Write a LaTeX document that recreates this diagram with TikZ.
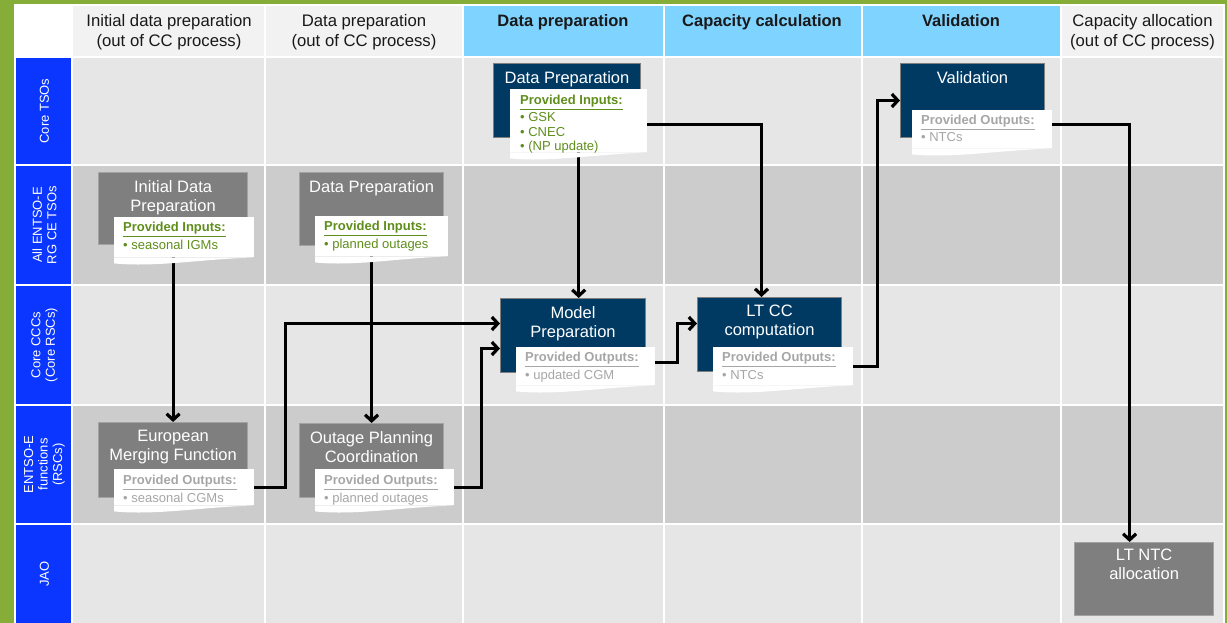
\documentclass[tikz,border=0pt]{standalone}
\usepackage{fontspec}
\setmainfont{Liberation Sans}
\usetikzlibrary{arrows.meta,calc}
\pgfdeclarelayer{bg}
\pgfdeclarelayer{conn}
\pgfsetlayers{bg,conn,main}
\definecolor{bggreen}{HTML}{86AD38}
\definecolor{hdrgray}{HTML}{F2F2F2}
\definecolor{hdrblue}{HTML}{7FD3FF}
\definecolor{lblblue}{HTML}{0A36FF}
\definecolor{rowlight}{HTML}{E6E6E6}
\definecolor{rowdark}{HTML}{CCCCCC}
\definecolor{navy}{HTML}{003A63}
\definecolor{boxgray}{HTML}{7F7F7F}
\definecolor{boxedge}{HTML}{A3A3A3}
\definecolor{notegreen}{HTML}{5F8E1C}
\definecolor{notegray}{HTML}{A6A6A6}
\newcommand\provhead[1]{\underline{\textbf{#1}}}
\newcommand\notewave[2]{\fill[white] (#1.south west) -- ([yshift=-6pt]#1.south west) .. controls +({#2*0.3},4) and +({-#2*0.4},2) .. (#1.south east) -- cycle;}
\tikzset{
  hdr/.style={anchor=north, inner sep=0pt, align=center, font=\fontsize{16.7}{20}\selectfont, text=black!90},
  hdrb/.style={hdr, font=\fontsize{16.5}{20}\selectfont\bfseries},
  rowlbl/.style={rotate=90, inner sep=0pt, align=center, text=white, font=\fontsize{13}{14.5}\selectfont},
  dbox/.style={anchor=north west, fill=navy, draw=boxgray, line width=1pt, inner sep=0pt},
  gbox/.style={anchor=north west, fill=boxgray, draw=boxedge, line width=1.2pt, inner sep=0pt},
  ttl/.style={anchor=north, inner sep=0pt, align=center, text=white, font=\fontsize{16.5}{19}\selectfont},
  note/.style={anchor=north west, fill=white, inner sep=0pt},
  ntxt/.style={anchor=north west, inner sep=0pt, align=left, font=\fontsize{13}{14.5}\selectfont},
  arr/.style={line width=3.2pt, black, line join=miter, -{Straight Barb[length=6pt,width=13pt]}}
}
\begin{document}
\begin{tikzpicture}[x=1pt,y=-1pt]
\useasboundingbox (0,0) rectangle (1227,623);
\begin{pgfonlayer}{bg}
\fill[bggreen] (0,0) rectangle (1227,623);
\fill[white] (15,5) rectangle (72,57);
\fill[hdrgray] (72,5) rectangle (463,57);
\fill[hdrblue] (463,5) rectangle (1061,57);
\fill[hdrgray] (1061,5) rectangle (1224,57);
\fill[lblblue] (15,57) rectangle (72,623);
\fill[rowlight] (72,57) rectangle (1224,165);
\fill[rowdark] (72,165) rectangle (1224,285);
\fill[rowlight] (72,285) rectangle (1224,405);
\fill[rowdark] (72,405) rectangle (1224,524);
\fill[rowlight] (72,524) rectangle (1224,623);
\foreach \gx in {72,265,463,664,862,1061}{\draw[white,line width=2pt] (\gx,5) -- (\gx,623);}
\foreach \gy in {57,165,285,405,524}{\draw[white,line width=2pt] (15,\gy) -- (1224,\gy);}
\draw[white,line width=1.5pt] (15,623) -- (15,5) -- (1224,5) -- (1224,623);
\end{pgfonlayer}

% headers
\node[hdr] (h1) at (169,14) {Initial data preparation\\(out of CC process)};
\node[hdr] (h2) at (364,14) {Data preparation\\(out of CC process)};
\node[hdrb] (h3) at (563,14) {Data preparation};
\node[hdrb] (h4) at (762,14) {Capacity calculation};
\node[hdrb] (h5) at (961,14) {Validation};
\node[hdr] (h6) at (1142.5,14) {Capacity allocation\\(out of CC process)};

% row labels
\node[rowlbl] (r1) at (44.5,111) {Core TSOs};
\node[rowlbl] (r2) at (44.5,225) {All ENTSO-E\\RG CE TSOs};
\node[rowlbl] (r3) at (44.5,345) {Core CCCs\\(Core RSCs)};
\node[rowlbl] (r4) at (44.5,464.5) {ENTSO-E\\functions\\(RSCs)};
\node[rowlbl] (r5) at (44.5,574) {JAO};

% boxes
\node[dbox, minimum width=147pt, minimum height=74pt] (dp) at (493,63) {};
\node[ttl] (dpT) at ([yshift=-8pt]dp.north) {Data Preparation};
\node[dbox, minimum width=144pt, minimum height=74pt] (val) at (900,63) {};
\node[ttl] (valT) at ([yshift=-8pt]val.north) {Validation};
\node[gbox, minimum width=149pt, minimum height=72pt] (idp) at (98,172) {};
\node[ttl] (idpT) at ([yshift=-8pt]idp.north) {Initial Data\\Preparation};
\node[gbox, minimum width=144pt, minimum height=73pt] (dpg) at (299,172) {};
\node[ttl] (dpgT) at ([yshift=-8pt]dpg.north) {Data Preparation};
\node[dbox, minimum width=145pt, minimum height=74pt] (mp) at (500,298) {};
\node[ttl] (mpT) at ([yshift=-8pt]mp.north) {Model\\Preparation};
\node[dbox, minimum width=144pt, minimum height=74pt] (lt) at (697,297) {};
\node[ttl] (ltT) at ([yshift=-8pt]lt.north) {LT CC\\computation};
\node[gbox, minimum width=149pt, minimum height=75pt] (emf) at (98,422) {};
\node[ttl] (emfT) at ([yshift=-8pt]emf.north) {European\\Merging Function};
\node[gbox, minimum width=144pt, minimum height=74pt] (opc) at (299,423) {};
\node[ttl] (opcT) at ([yshift=-8pt]opc.north) {Outage Planning\\Coordination};
\node[gbox, minimum width=139pt, minimum height=73pt] (lta) at (1074,542) {};
\node[ttl] (ltaT) at ([yshift=-7pt]lta.north) {LT NTC\\allocation};

% notes
\node[note, minimum width=137pt, minimum height=63pt] (n1) at (510,89) {};
\notewave{n1}{137}
\node[ntxt, text=notegreen] (n1t) at ([shift={(10,6)}]n1.north west) {\provhead{Provided Inputs:}\\[2.5pt]• GSK\\• CNEC\\• (NP update)};

\node[note, minimum width=140pt, minimum height=38pt] (nval) at (912,110) {};
\notewave{nval}{140}
\node[ntxt, text=notegray] (nvalt) at ([shift={(9,5)}]nval.north west) {\provhead{Provided Outputs:}\\[2.5pt]• NTCs};

\node[note, minimum width=140pt, minimum height=40pt] (nidp) at (114,217) {};
\notewave{nidp}{140}
\node[ntxt, text=notegreen] (nidpt) at ([shift={(9,5)}]nidp.north west) {\provhead{Provided Inputs:}\\[3pt]• seasonal IGMs};

\node[note, minimum width=133pt, minimum height=40pt] (ndpg) at (315,216) {};
\notewave{ndpg}{133}
\node[ntxt, text=notegreen] (ndpgt) at ([shift={(9,5)}]ndpg.north west) {\provhead{Provided Inputs:}\\[3pt]• planned outages};

\node[note, minimum width=139pt, minimum height=38pt] (nmp) at (516,347) {};
\notewave{nmp}{139}
\node[ntxt, text=notegray] (nmpt) at ([shift={(9,5)}]nmp.north west) {\provhead{Provided Outputs:}\\[3pt]• updated CGM};

\node[note, minimum width=140pt, minimum height=38pt] (nlt) at (713,347) {};
\notewave{nlt}{140}
\node[ntxt, text=notegray] (nltt) at ([shift={(9,5)}]nlt.north west) {\provhead{Provided Outputs:}\\[3pt]• NTCs};

\node[note, minimum width=140pt, minimum height=36pt] (nemf) at (114,469) {};
\notewave{nemf}{140}
\node[ntxt, text=notegray] (nemft) at ([shift={(9,6)}]nemf.north west) {\provhead{Provided Outputs:}\\[3pt]• seasonal CGMs};

\node[note, minimum width=139pt, minimum height=36pt] (nopc) at (315,469) {};
\notewave{nopc}{139}
\node[ntxt, text=notegray] (nopct) at ([shift={(9,6)}]nopc.north west) {\provhead{Provided Outputs:}\\[3pt]• planned outages};

% connectors
\begin{pgfonlayer}{conn}
\draw[arr] (n1) -- (n1 |- mp.north);
\draw[arr] ([yshift=-3.5pt]n1.east) -| ([xshift=-8pt]lt.north);
\draw[arr] (nlt.east) -- ++(24,0) |- (val.west);
\draw[arr] ([yshift=5pt]nval.east) -| ([xshift=-14.5pt]lta.north);
\draw[arr] (emf.north |- nidp.south) -- (emf.north);
\draw[arr] (opc.north |- ndpg.south) -- (opc.north);
\draw[arr] (nemf.east) -- ++(31,0) |- ([yshift=12pt]mp.west);
\draw[arr] (nopc.east) -- ++(27,0) |- ([yshift=-13pt]mp.west);
\draw[arr] ([yshift=4pt]nmp.east) -- ++(22,0) |- ([yshift=11pt]lt.west);
\end{pgfonlayer}
\end{tikzpicture}
\end{document}
